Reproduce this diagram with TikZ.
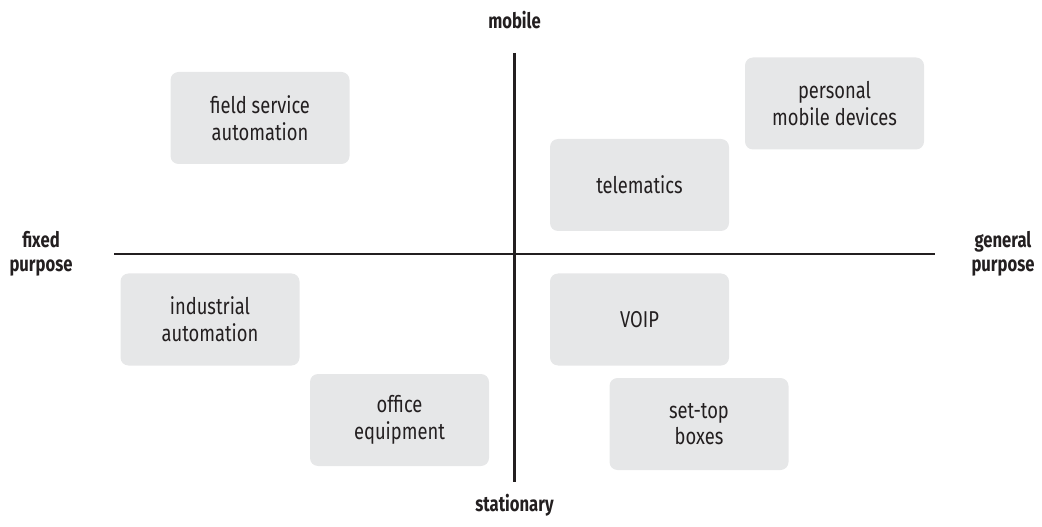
\documentclass[tikz,border=0pt]{standalone}
\usepackage{fontspec}
\setmainfont{Fira Sans}[FakeStretch=0.8]
\newfontfamily\boldcond{Fira Sans Bold}[FakeStretch=0.78]
\definecolor{boxfill}{HTML}{E6E7E8}
\definecolor{ink}{HTML}{231F20}
\tikzset{
  segment/.style={fill=boxfill, draw=none, rounded corners=8*0.75pt, minimum width=179*0.75pt, minimum height=92*0.75pt, align=center, text=ink, font=\fontsize{17.2}{20}\selectfont},
  axislabel/.style={align=center, text=ink, font=\boldcond\fontsize{16}{18}\selectfont},
}
\begin{document}
\begin{tikzpicture}[x=0.75pt,y=-0.75pt]
\useasboundingbox (0,0) rectangle (1042,527);
% quadrant boxes
\node[segment] (fsa) at (260,118) {field service\\automation};
\node[segment] (pmd) at (834.5,103.5) {personal\\mobile devices};
\node[segment] (tel) at (639.5,185) {telematics};
\node[segment] (ind) at (210,319.5) {industrial\\automation};
\node[segment] (voip) at (639.5,319.5) {VOIP};
\node[segment] (off) at (399.5,420) {office\\equipment};
\node[segment] (stb) at (699,424) {set-top\\boxes};
% axes
\coordinate (hl) at (114,254);
\coordinate (hr) at (935,254);
\coordinate (vt) at (514.5,53);
\coordinate (vb) at (514.5,482);
\draw[ink, line width=1.6*0.75pt] (hl) -- (hr);
\draw[ink, line width=3*0.75pt] (vt) -- (vb);
% axis labels
\node[axislabel] (mob) at (514.5,20) {mobile};
\node[axislabel] (sta) at (514.5,505) {stationary};
\node[axislabel] (fix) at (41,254) {fixed\\purpose};
\node[axislabel] (gen) at (1003,254) {general\\purpose};
\end{tikzpicture}
\end{document}
